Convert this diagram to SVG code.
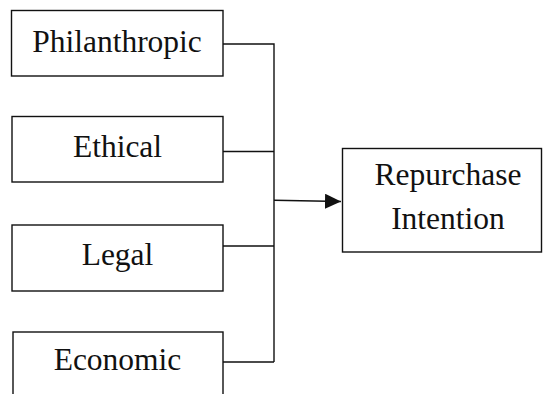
<svg xmlns="http://www.w3.org/2000/svg" width="544" height="394" viewBox="0 0 544 394">
<style>
.box{fill:#fff;stroke:#111;stroke-width:1.4}
.t{font-family:"Liberation Serif","Times New Roman",serif;font-size:31.5px;fill:#111;text-anchor:middle}
.c{fill:none;stroke:#111;stroke-width:1.4}
</style>
<defs>
<marker id="ah" markerUnits="userSpaceOnUse" markerWidth="17" markerHeight="16" refX="16" refY="7.5" orient="auto">
<path d="M0,0 L16,7.5 L0,15 Z" fill="#111"/>
</marker>
</defs>
<rect width="544" height="394" fill="#fff"/>
<g id="connectors">
<path class="c" d="M223,44 H274 V362 M223,151.5 H274 M223,246 H274 M223,362 H274"/>
<line class="c" x1="274" y1="200.3" x2="341" y2="201.5" marker-end="url(#ah)"/>
</g>
<g id="philanthropic">
<rect class="box" x="11.5" y="10.5" width="211.5" height="65.5"/>
<text class="t" x="117" y="52">Philanthropic</text>
</g>
<g id="ethical">
<rect class="box" x="12" y="116.5" width="211" height="65.5"/>
<text class="t" x="117.5" y="157">Ethical</text>
</g>
<g id="legal">
<rect class="box" x="12" y="225" width="211" height="66"/>
<text class="t" x="117.5" y="265">Legal</text>
</g>
<g id="economic">
<rect class="box" x="13" y="332" width="210" height="80"/>
<text class="t" x="117.5" y="370">Economic</text>
</g>
<g id="repurchase">
<rect class="box" x="342.5" y="148.5" width="199" height="103.5"/>
<text class="t" x="448" y="185">Repurchase</text>
<text class="t" x="448" y="229">Intention</text>
</g>
</svg>
